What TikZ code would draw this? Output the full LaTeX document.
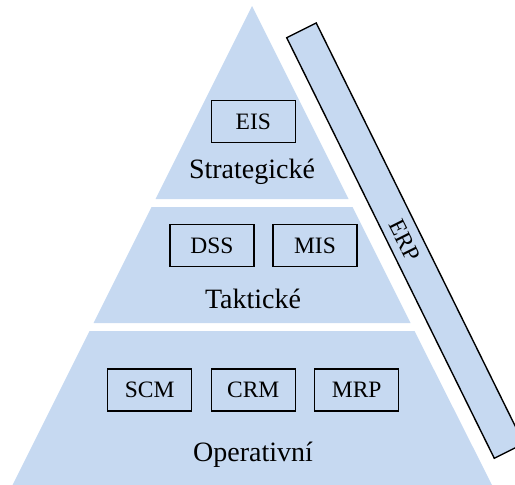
\documentclass[tikz,border=0pt]{standalone}
\usepackage{fontspec}
\setmainfont{Liberation Serif}
\definecolor{pyr}{HTML}{C6D9F1}
\begin{document}
\begin{tikzpicture}[x=1pt,y=-1pt,
  layer/.style={fill=pyr, draw=none},
  sysbox/.style={draw=black, line width=1.3pt, fill=pyr, minimum width=84pt, minimum height=42pt, inner sep=0pt, font=\fontsize{23.5}{26}\selectfont},
  lvl/.style={font=\fontsize{28}{32}\selectfont, anchor=base, inner sep=0pt},
  erpbar/.style={fill=pyr, draw=black, line width=1.4pt, line join=miter}]
\useasboundingbox (0,0) rectangle (515,485);
\begin{scope}
\clip (0,0) rectangle (515,485);
% pyramid layers
\fill[layer] (252,6) -- (348.5,199) -- (155.5,199) -- cycle;
\fill[layer] (151.5,207) -- (352.5,207) -- (410.5,323) -- (93.5,323) -- cycle;
\fill[layer] (89.5,331) -- (414.5,331) -- (492,485) -- (12.5,485) -- cycle;
% ERP bar
\coordinate (ba) at (286.7,37.7);
\coordinate (bb) at (316.2,22.95);
\coordinate (bc) at (523.8,443.5);
\coordinate (bd) at (494.3,458.3);
\draw[erpbar] (ba) -- (bb) -- (bc) -- (bd) -- cycle;
\end{scope}
\node[rotate=-63.43, font=\fontsize{23.5}{26}\selectfont, inner sep=0pt] (erp) at (405,240) {ERP};
% boxes
\node[sysbox] (eis) at (253.3,121.7) {EIS};
\node[sysbox] (dss) at (212,245.5) {DSS};
\node[sysbox] (mis) at (315,245.5) {MIS};
\node[sysbox] (scm) at (149.7,390) {SCM};
\node[sysbox] (crm) at (253.2,390) {CRM};
\node[sysbox] (mrp) at (356.7,390) {MRP};
% level labels
\node[lvl] (str) at (252,178.3) {Strategické};
\node[lvl] (tak) at (253,308.3) {Taktické};
\node[lvl] (ope) at (253,461.7) {Operativní};
\end{tikzpicture}
\end{document}
